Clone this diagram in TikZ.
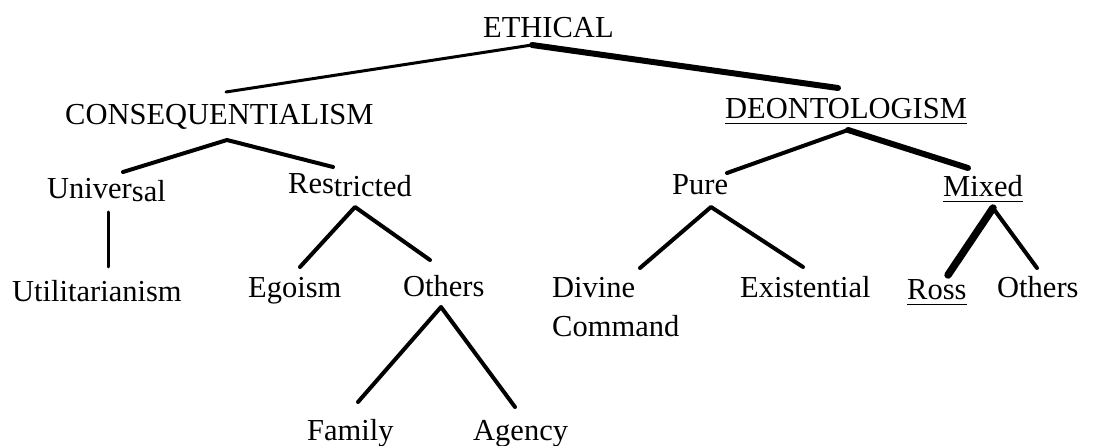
\documentclass[tikz,border=0pt]{standalone}
\usepackage{fontspec}
\setmainfont{Liberation Serif}
\begin{document}
\tikzset{
  lbl/.style={inner sep=0pt, anchor=base west, font=\fontsize{30.5}{36}\selectfont},
  branch/.style={line width=4pt, line cap=round, line join=round},
  thin branch/.style={line width=3pt, line cap=round},
  heavy/.style={line width=6pt, line cap=round},
  heavier/.style={line width=7.5pt, line cap=round},
  uline/.style={line width=1.4pt}
}
\begin{tikzpicture}[x=1pt,y=-1pt]
\useasboundingbox (0,0) rectangle (1093,446);

% labels
\node[lbl] (ethical)  at (483,38)  {ETHICAL};
\node[lbl] (conseq)   at (65,125)  {CONSEQUENTIALISM};
\node[lbl] (deont)    at (725,119) {DEONTOLOGISM};
\node[lbl] (univ)     at (47,199)  {Univer\raisebox{-3pt}{sal}};
\node[lbl] (restr)    at (288,194) {Res\raisebox{-3pt}{tricted}};
\node[lbl] (pure)     at (672,195) {Pure};
\node[lbl] (mixed)    at (943,197) {Mixed};
\node[lbl] (util)     at (12,302)  {Utilitarianism};
\node[lbl] (egoism)   at (248,298) {Egoism};
\node[lbl] (others)   at (403,297) {Others};
\node[lbl] (divine)   at (552,298) {Divine};
\node[lbl] (command)  at (552,337) {Command};
\node[lbl] (exist)    at (740,298) {Existential};
\node[lbl] (ross)     at (907,300) {Ross};
\node[lbl] (othersb)  at (997,298) {Others};
\node[lbl] (family)   at (307,440) {Family};
\node[lbl] (agency)   at (473,440) {Agency};

% underlines
\foreach \n in {deont,mixed,ross}
  \draw[uline] ([yshift=-4.5pt]\n.base west) -- ([yshift=-4.5pt]\n.base east);

% branch points and branch ends
\coordinate (ethical-j) at (532,45);
\coordinate (conseq-t)  at (226,92);
\coordinate (deont-t)   at (838,88);
\coordinate (conseq-j)  at (227,140);
\coordinate (univ-t)    at (123,172);
\coordinate (restr-t)   at (333,167);
\coordinate (univ-b)    at (108,212);
\coordinate (util-t)    at (108,267);
\coordinate (restr-j)   at (355,207);
\coordinate (egoism-t)  at (300,267);
\coordinate (others-t)  at (430,260);
\coordinate (others-j)  at (441,307);
\coordinate (family-t)  at (358,402);
\coordinate (agency-t)  at (515,407);
\coordinate (deont-j)   at (848,130);
\coordinate (pure-t)    at (727,173);
\coordinate (mixed-t)   at (968,168);
\coordinate (pure-j)    at (711,207);
\coordinate (divine-t)  at (640,268);
\coordinate (exist-t)   at (803,267);
\coordinate (mixed-j)   at (993,208);
\coordinate (ross-t)    at (948,275);
\coordinate (othersb-t) at (1037,268);

% connectors
\draw[thin branch] (conseq-t) -- (ethical-j);
\draw[heavy]  (ethical-j) -- (deont-t);
\draw[branch] (univ-t) -- (conseq-j) -- (restr-t);
\draw[thin branch] (univ-b) -- (util-t);
\draw[branch] (egoism-t) -- (restr-j) -- (others-t);
\draw[branch] (family-t) -- (others-j) -- (agency-t);
\draw[branch] (pure-t) -- (deont-j);
\draw[heavy]  (deont-j) -- (mixed-t);
\draw[branch] (divine-t) -- (pure-j) -- (exist-t);
\draw[heavier] (mixed-j) -- (ross-t);
\draw[branch] (mixed-j) -- (othersb-t);
\end{tikzpicture}
\end{document}
